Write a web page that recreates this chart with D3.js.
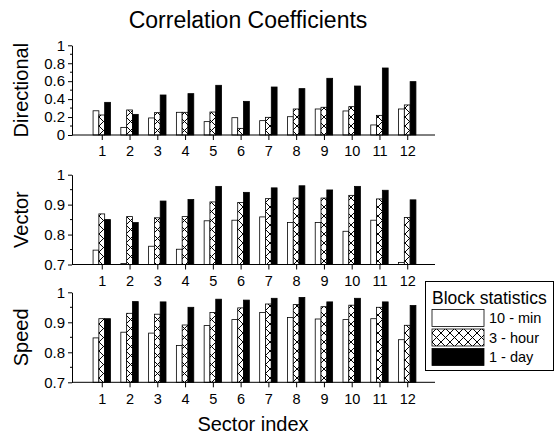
<!DOCTYPE html>
<html>
<head>
<meta charset="utf-8">
<script src="https://cdn.jsdelivr.net/npm/d3@7/dist/d3.min.js"></script>
<style>
  body { margin: 0; background: #fff; }
  text { font-family: "Liberation Sans", Arial, sans-serif; fill: #000; }
</style>
</head>
<body>
<svg id="chart" width="557" height="435"></svg>
<script>
// Sector indices along the x axis
const sectors = [1, 2, 3, 4, 5, 6, 7, 8, 9, 10, 11, 12];

// Block statistics series names
const seriesNames = ["10 - min", "3 - hour", "1 - day"];

// Directional correlation coefficients
const directional10min = [0.27, 0.085, 0.19, 0.253, 0.149, 0.193, 0.16, 0.204, 0.29, 0.268, 0.112, 0.29];
const directional3hour = [0.223, 0.279, 0.249, 0.253, 0.256, 0.074, 0.197, 0.29, 0.309, 0.316, 0.219, 0.335];
const directional1day  = [0.364, 0.23, 0.446, 0.461, 0.554, 0.375, 0.535, 0.517, 0.632, 0.546, 0.747, 0.595];

// Vector correlation coefficients
const vector10min = [0.748, 0.703, 0.761, 0.751, 0.846, 0.848, 0.859, 0.84, 0.84, 0.811, 0.848, 0.707];
const vector3hour = [0.869, 0.86, 0.856, 0.86, 0.909, 0.907, 0.92, 0.922, 0.922, 0.931, 0.919, 0.857];
const vector1day  = [0.85, 0.84, 0.912, 0.917, 0.961, 0.941, 0.956, 0.963, 0.949, 0.961, 0.948, 0.916];

// Speed correlation coefficients
const speed10min = [0.848, 0.867, 0.864, 0.823, 0.889, 0.909, 0.933, 0.916, 0.911, 0.909, 0.912, 0.842];
const speed3hour = [0.912, 0.93, 0.927, 0.891, 0.933, 0.948, 0.961, 0.959, 0.952, 0.957, 0.95, 0.89];
const speed1day  = [0.912, 0.969, 0.968, 0.95, 0.977, 0.974, 0.98, 0.983, 0.968, 0.98, 0.968, 0.956];

// Axis tick labels
const directionalTicks = [0, 0.2, 0.4, 0.6, 0.8, 1];
const directionalMinor = [0.1, 0.3, 0.5, 0.7, 0.9];
const upperTicks = [0.7, 0.8, 0.9, 1];
const upperMinor = [0.75, 0.85, 0.95];

const panels = [
  { title: "Directional", series: [directional10min, directional3hour, directional1day],
    domain: [0, 1], ticks: directionalTicks, minor: directionalMinor, top: 45.3, bottom: 135 },
  { title: "Vector", series: [vector10min, vector3hour, vector1day],
    domain: [0.7, 1], ticks: upperTicks, minor: upperMinor, top: 174.7, bottom: 264.5 },
  { title: "Speed", series: [speed10min, speed3hour, speed1day],
    domain: [0.7, 1], ticks: upperTicks, minor: upperMinor, top: 292.3, bottom: 382.3 }
];

const svg = d3.select("#chart");
const axisX = 72, axisRight = 435;

// Fill styles for the three series
const defs = svg.append("defs");
const pat = defs.append("pattern")
  .attr("id", "crosshatch")
  .attr("patternUnits", "userSpaceOnUse")
  .attr("width", 9).attr("height", 9);
pat.append("rect").attr("width", 9).attr("height", 9).attr("fill", "#fff");
pat.append("path").attr("d", "M0,0L9,9M9,0L0,9")
  .attr("stroke", "#000").attr("stroke-width", 1).attr("fill", "none");
const fills = ["#fff", "url(#crosshatch)", "#000"];

const x = d3.scaleLinear().domain([0, 13]).range([74, axisRight]);
const barW = 5.8;

// Title
svg.append("text")
  .attr("x", 248).attr("y", 28)
  .attr("text-anchor", "middle")
  .style("font-size", "23px")
  .text("Correlation Coefficients");

panels.forEach(p => {
  const y = d3.scaleLinear().domain(p.domain).range([p.bottom, p.top]);
  const g = svg.append("g");

  // Bars
  p.series.forEach((vals, si) => {
    g.selectAll(null)
      .data(sectors.map((s, i) => ({ s, v: vals[i] })))
      .join("rect")
      .attr("x", d => x(d.s) - barW * 1.5 + si * barW)
      .attr("y", d => y(d.v))
      .attr("width", barW)
      .attr("height", d => y(p.domain[0]) - y(d.v))
      .attr("fill", fills[si])
      .attr("stroke", "#000")
      .attr("stroke-width", 0.8);
  });

  // Left axis with major ticks
  const yAxis = d3.axisLeft(y).tickValues(p.ticks)
    .tickFormat(d3.format("~g")).tickSize(4).tickPadding(3).tickSizeOuter(0);
  const ya = g.append("g").attr("transform", `translate(${axisX},0)`).call(yAxis);
  ya.selectAll("text").style("font-size", "15px");
  ya.selectAll("line, path").attr("stroke", "#000");
  // Minor ticks
  g.append("g").selectAll("line").data(p.minor).join("line")
    .attr("x1", axisX - 2).attr("x2", axisX)
    .attr("y1", d => y(d)).attr("y2", d => y(d))
    .attr("stroke", "#000");

  // Bottom axis
  const xAxis = d3.axisBottom(x).tickValues(sectors).tickSize(5).tickPadding(6).tickSizeOuter(0);
  const xa = g.append("g").attr("transform", `translate(0,${p.bottom})`).call(xAxis);
  xa.select(".domain").remove();
  xa.selectAll("text").style("font-size", "14.5px");
  xa.selectAll("line").attr("stroke", "#000");
  g.append("line")
    .attr("x1", axisX).attr("x2", axisRight)
    .attr("y1", p.bottom).attr("y2", p.bottom)
    .attr("stroke", "#000");

  // Panel axis title
  g.append("text")
    .attr("transform", `translate(28,${(p.top + p.bottom) / 2}) rotate(-90)`)
    .attr("text-anchor", "middle")
    .style("font-size", "20px")
    .text(p.title);
});

// X axis title
svg.append("text")
  .attr("x", 253).attr("y", 431)
  .attr("text-anchor", "middle")
  .style("font-size", "20px")
  .text("Sector index");

// Legend
const lg = svg.append("g");
lg.append("rect")
  .attr("x", 425.5).attr("y", 281.5).attr("width", 128).attr("height", 89)
  .attr("fill", "#fff").attr("stroke", "#000");
lg.append("text").attr("x", 432).attr("y", 304).style("font-size", "17.5px").text("Block statistics");
seriesNames.forEach((name, i) => {
  const yy = 309.5 + i * 19.5;
  lg.append("rect")
    .attr("x", 432).attr("y", yy).attr("width", 52).attr("height", 17)
    .attr("fill", fills[i]).attr("stroke", "#000").attr("stroke-width", 0.8);
  lg.append("text").attr("x", 489).attr("y", yy + 13.5).style("font-size", "14.5px").text(name);
});
</script>
</body>
</html>
